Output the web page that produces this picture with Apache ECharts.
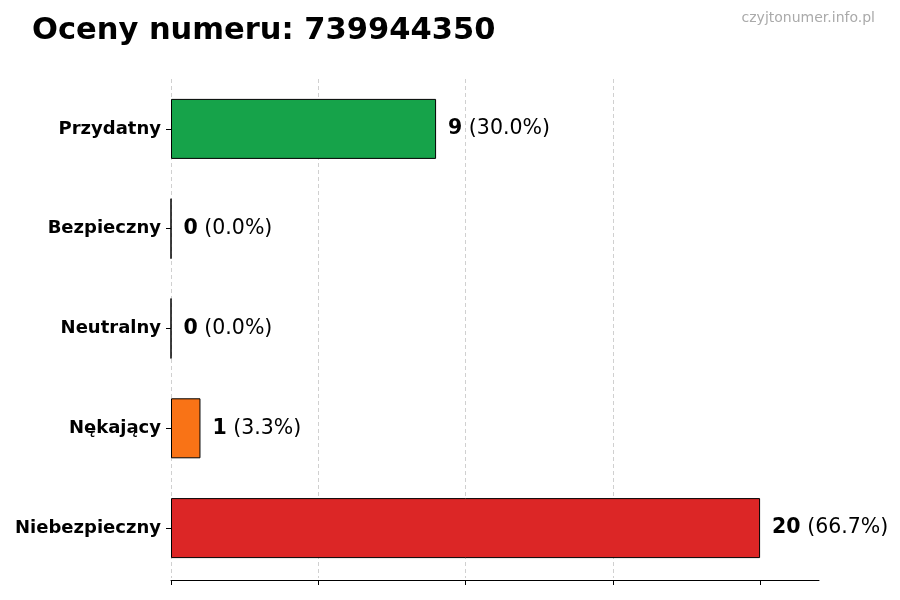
<!DOCTYPE html>
<html><head><meta charset="utf-8">
<script src="https://cdn.jsdelivr.net/npm/echarts@6/dist/echarts.min.js"></script>
<style>html,body{margin:0;padding:0;background:#fff}#c{width:900px;height:600px}</style>
</head><body><div id="c"></div>
<script>
const categories = ["Przydatny", "Bezpieczny", "Neutralny", "Nękający", "Niebezpieczny"];
const counts = [9, 0, 0, 1, 20];
const percents = ["30.0%", "0.0%", "0.0%", "3.3%", "66.7%"];
const colors = ["#16a34a", "#16a34a", "#6b7280", "#f97316", "#dc2626"];
const xTicks = [0, 5, 10, 15, 20];
const titleText = "Oceny numeru: 739944350";
const watermark = "czyjtonumer.info.pl";

const chart = echarts.init(document.getElementById('c'));
chart.setOption({
  animation: false,
  backgroundColor: '#ffffff',
  textStyle: { fontFamily: 'DejaVu Sans' },
  title: [
    { text: titleText, left: 27, top: 11, textStyle: { fontFamily: 'DejaVu Sans', fontSize: 30.5, fontWeight: 'bold', color: '#000' } },
    { text: watermark, right: 20, top: 6, textStyle: { fontFamily: 'DejaVu Sans', fontSize: 14, fontWeight: 'normal', color: '#aaaaaa' } }
  ],
  grid: { left: 171, right: 81, top: 79, bottom: 22 },
  xAxis: {
    type: 'value', min: 0, max: 22, interval: 5, offset: 2,
    axisLine: { show: true, lineStyle: { color: '#000', width: 1 } },
    axisTick: { show: true, length: 5, customValues: xTicks, lineStyle: { color: '#000' } },
    axisLabel: { show: false },
    splitLine: { show: true, showMinLine: true, showMaxLine: false, lineStyle: { type: [4, 3], color: '#d0d0d0', width: 1 } }
  },
  yAxis: {
    type: 'category', data: categories, inverse: true,
    axisLine: { show: false },
    axisTick: { show: true, length: 5, alignWithLabel: true, lineStyle: { color: '#000' } },
    axisLabel: { fontFamily: 'DejaVu Sans', fontSize: 18, fontWeight: 'bold', color: '#000', margin: 10 }
  },
  series: [{
    type: 'bar',
    barWidth: 60,
    data: counts.map((v, i) => ({ value: v, itemStyle: { color: colors[i] } })),
    itemStyle: { borderColor: '#000', borderWidth: 1 },
    label: {
      show: true, position: 'right', distance: 12,
      formatter: p => '{b|' + counts[p.dataIndex] + '}{n| (' + percents[p.dataIndex] + ')}',
      rich: {
        b: { fontFamily: 'DejaVu Sans', fontSize: 20.5, fontWeight: 'bold', color: '#000' },
        n: { fontFamily: 'DejaVu Sans', fontSize: 20.5, color: '#000' }
      }
    }
  }]
});
</script></body></html>
